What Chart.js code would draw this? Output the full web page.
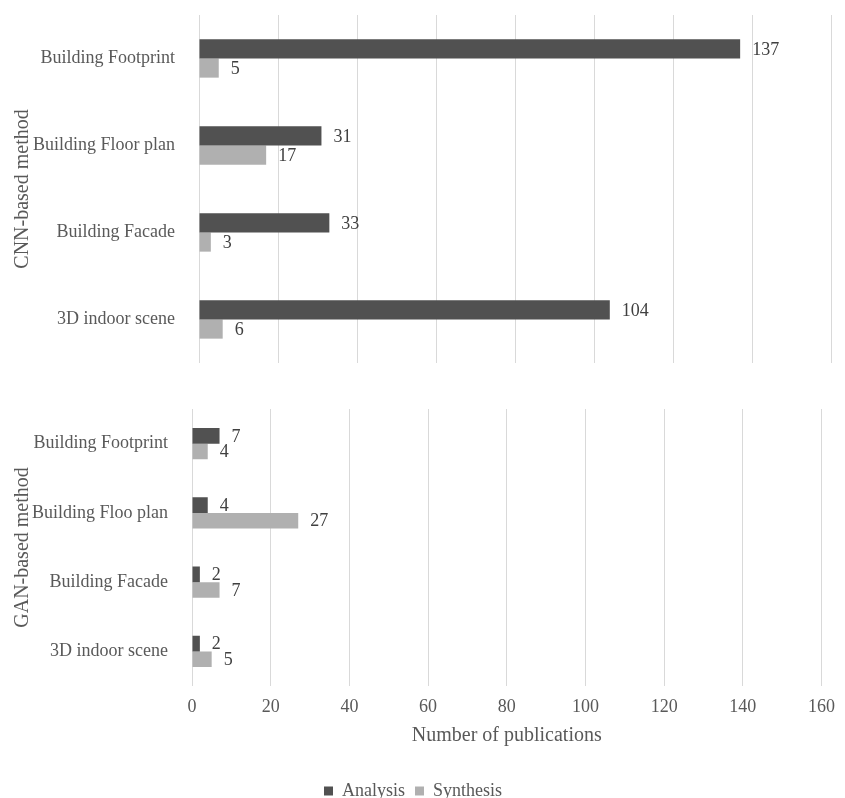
<!DOCTYPE html>
<html>
<head>
<meta charset="utf-8">
<script src="https://cdn.jsdelivr.net/npm/chart.js@4"></script>
<style>
  html, body { margin: 0; padding: 0; background: #fff; overflow: hidden; }
  .box { position: absolute; left: 0; width: 845px; }
  #topBox { top: 0; height: 380px; }
  #botBox { top: 390px; height: 420px; }
</style>
</head>
<body>
<div class="box" id="topBox"><canvas id="cnnChart"></canvas></div>
<div class="box" id="botBox"><canvas id="ganChart"></canvas></div>
<script>
// data
const cnnLabels = ['Building Footprint', 'Building Floor plan', 'Building Facade', '3D indoor scene'];
const cnnAnalysis = [137, 31, 33, 104];
const cnnSynthesis = [5, 17, 3, 6];

const ganLabels = ['Building Footprint', 'Building Floo plan', 'Building Facade', '3D indoor scene'];
const ganAnalysis = [7, 4, 2, 2];
const ganSynthesis = [4, 27, 7, 5];

const xTicks = [0, 20, 40, 60, 80, 100, 120, 140, 160];

const FONT = 'Liberation Serif';
const TEXT = '#595959';
const DARK = '#515151';
const LIGHT = '#b0b0b0';

// value labels to the right of each bar
const barValues = {
  id: 'barValues',
  afterDatasetsDraw(chart) {
    const ctx = chart.ctx;
    ctx.save();
    ctx.font = '18px "' + FONT + '"';
    ctx.fillStyle = '#404040';
    ctx.textAlign = 'left';
    ctx.textBaseline = 'middle';
    chart.data.datasets.forEach((ds, i) => {
      chart.getDatasetMeta(i).data.forEach((bar, j) => {
        ctx.fillText(String(ds.data[j]), bar.x + 12, bar.y + 1);
      });
    });
    ctx.restore();
  }
};

function makeChart(id, labels, analysis, synthesis, opts) {
  return new Chart(document.getElementById(id), {
    type: 'bar',
    data: {
      labels,
      datasets: [
        { label: 'Analysis', data: analysis, backgroundColor: DARK },
        { label: 'Synthesis', data: synthesis, backgroundColor: LIGHT }
      ]
    },
    options: {
      indexAxis: 'y',
      responsive: true,
      maintainAspectRatio: false,
      animation: false,
      datasets: { bar: { barPercentage: 1, categoryPercentage: opts.catPct } },
      layout: { padding: opts.padding },
      plugins: {
        legend: opts.legend,
        tooltip: { enabled: false }
      },
      scales: {
        x: {
          min: 0,
          max: 160,
          afterBuildTicks: s => { s.ticks = xTicks.map(v => ({ value: v })); },
          afterFit: s => { s.height = opts.xHeight; },
          grid: { color: '#d9d9d9', lineWidth: 1, drawTicks: false },
          border: { display: false },
          ticks: { display: opts.showTicks, padding: 10, color: TEXT, font: { family: FONT, size: 18 } },
          title: {
            display: opts.showTicks,
            text: 'Number of publications',
            color: TEXT,
            font: { family: FONT, size: 20 },
            padding: { top: 0, bottom: 24 }
          }
        },
        y: {
          afterFit: s => { s.width = opts.yWidth; s.paddingTop = 0; s.paddingBottom = 0; },
          grid: { display: false },
          border: { display: false },
          ticks: { padding: 16, color: TEXT, font: { family: FONT, size: 18 } },
          title: {
            display: true,
            text: opts.yTitle,
            color: TEXT,
            font: { family: FONT, size: 20 },
            padding: { top: 11, bottom: 0 }
          }
        }
      }
    },
    plugins: [barValues]
  });
}

makeChart('cnnChart', cnnLabels, cnnAnalysis, cnnSynthesis, {
  catPct: 0.44,
  padding: { top: 15, right: 14, bottom: 17, left: 0 },
  legend: { display: false },
  xHeight: 0,
  showTicks: false,
  yWidth: 199,
  yTitle: 'CNN-based method'
});

makeChart('ganChart', ganLabels, ganAnalysis, ganSynthesis, {
  catPct: 0.45,
  padding: { top: 19, right: 19, bottom: 0, left: 0 },
  legend: {
    display: true,
    position: 'bottom',
    labels: { color: TEXT, boxWidth: 9, boxHeight: 9, padding: 10, font: { family: FONT, size: 18 } }
  },
  xHeight: 86,
  showTicks: true,
  yWidth: 192,
  yTitle: 'GAN-based method'
});
</script>
</body>
</html>
